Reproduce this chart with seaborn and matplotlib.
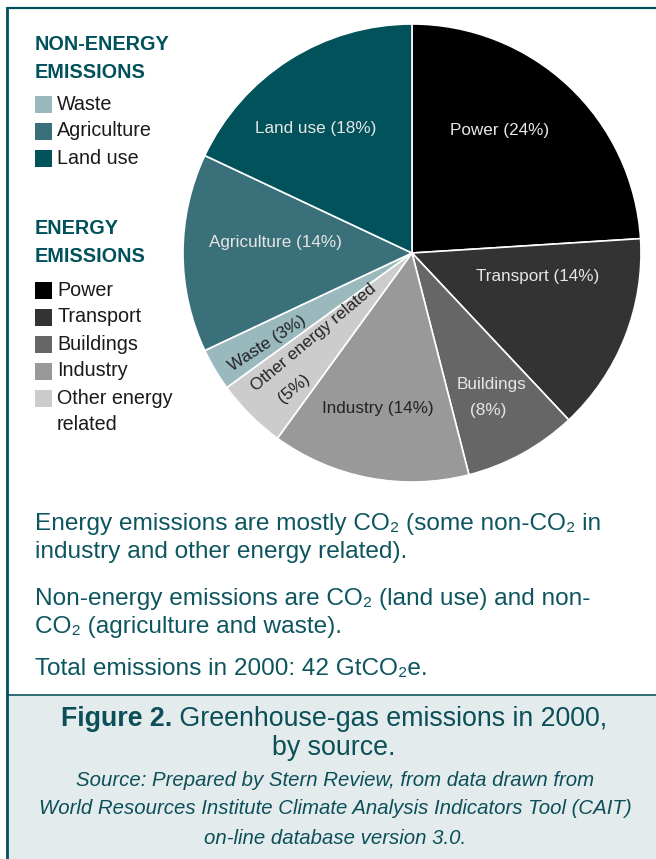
import matplotlib
matplotlib.use("Agg")
import matplotlib.pyplot as plt
import seaborn as sns
from matplotlib.patches import Rectangle
from matplotlib.lines import Line2D

# ---- data ----
sources = ["Power", "Transport", "Buildings", "Industry", "Other energy related",
           "Waste", "Agriculture", "Land use"]
shares = [24, 14, 8, 14, 5, 3, 14, 18]
slice_colors = ["#000000", "#333333", "#666666", "#999999", "#cccccc",
                "#99b9bd", "#3a707a", "#02525c"]
non_energy_items = ["Waste", "Agriculture", "Land use"]
energy_items = ["Power", "Transport", "Buildings", "Industry", "Other energy related"]

sns.set_theme(style="white")
FONT = ["Liberation Sans", "DejaVu Sans"]
plt.rcParams["font.family"] = FONT

W, H = 656, 859
TEAL = "#00515b"
TXT_TEAL = "#0d555f"

fig = plt.figure(figsize=(W / 100, H / 100), dpi=100)
ax = fig.add_axes([0, 0, 1, 1])


def Y(y):
    return H - y


# pie
cx, cy, R = 412, 253, 229
wedges, _ = ax.pie(shares, colors=slice_colors, startangle=90, counterclock=False,
                   center=(cx, Y(cy)), radius=R,
                   wedgeprops=dict(edgecolor="white", linewidth=1.2))
ax.set_xlim(0, W)
ax.set_ylim(0, H)
ax.set_aspect("equal")
ax.axis("off")

# slice labels: (text, x, y, color, rotation)
light = "#e6e6e6"
dark = "#222222"
lab_size = 12.3
slice_labels = [
    ("Power (24%)", 500, 131, light, 0),
    ("Transport (14%)", 538, 277, light, 0),
    ("Buildings", 492, 385, light, 0),
    ("(8%)", 488, 410, light, 0),
    ("Industry (14%)", 378, 408, dark, 0),
    ("Other energy related", 314, 338, dark, 40),
    ("(5%)", 294, 389, dark, 40),
    ("Waste (3%)", 267, 343, dark, 33),
    ("Agriculture (14%)", 275, 242, light, 0),
    ("Land use (18%)", 316, 128, light, 0),
]
for t, x, y, c, rot in slice_labels:
    ax.text(x, Y(y), t, color=c, fontsize=lab_size, ha="center", va="center",
            rotation=rot, rotation_mode="anchor")

# frame lines
ax.add_line(Line2D([6.5, W], [Y(8), Y(8)], color=TEAL, lw=1.6))
ax.add_patch(Rectangle((6.5, 0), W - 6.5, Y(695), facecolor="#e4ebed", edgecolor="none"))
ax.add_line(Line2D([6.5, W], [Y(695), Y(695)], color="#2f6b73", lw=1.4))
ax.add_line(Line2D([6.5, 6.5], [0, Y(8)], color=TEAL, lw=2))

# legend
hx = 35
hs = 14.3
ax.text(hx, Y(45), "NON-ENERGY", color=TEAL, fontsize=hs, fontweight="bold", va="center")
ax.text(hx, Y(72), "EMISSIONS", color=TEAL, fontsize=hs, fontweight="bold", va="center")
ax.text(hx, Y(229), "ENERGY", color=TEAL, fontsize=hs, fontweight="bold", va="center")
ax.text(hx, Y(256), "EMISSIONS", color=TEAL, fontsize=hs, fontweight="bold", va="center")

col = dict(zip(sources, slice_colors))
row_ys_ne = [104, 131, 158]
row_ys_e = [290, 317, 344, 371, 398]
for items, ys in ((non_energy_items, row_ys_ne), (energy_items, row_ys_e)):
    for name, y in zip(items, ys):
        ax.add_patch(Rectangle((35, Y(y) - 8.5), 16.5, 17, facecolor=col[name], edgecolor="none"))
        if name == "Other energy related":
            ax.text(57, Y(y), "Other energy", color="#1a1a1a", fontsize=14.2, va="center")
            ax.text(57, Y(y + 27), "related", color="#1a1a1a", fontsize=14.2, va="center")
        else:
            ax.text(57, Y(y), name, color="#1a1a1a", fontsize=14.2, va="center")

# body text
body = [
    ("Energy emissions are mostly CO\u2082 (some non-CO\u2082 in", 524),
    ("industry and other energy related).", 552),
    ("Non-energy emissions are CO\u2082 (land use) and non-", 599),
    ("CO\u2082 (agriculture and waste).", 627),
    ("Total emissions in 2000: 42 GtCO\u2082e.", 669),
]
for t, y in body:
    ax.text(35, Y(y), t, color=TXT_TEAL, fontsize=17.6, va="center")

# caption
fig.canvas.draw()
rend = fig.canvas.get_renderer()
cap_col = "#0b4f58"
cs = 19.3
ccx = 334
t1 = ax.text(0, Y(719), "Figure 2.", color=cap_col, fontsize=cs, fontweight="heavy", va="center")
t2 = ax.text(0, Y(719), " Greenhouse-gas emissions in 2000,", color=cap_col, fontsize=cs, va="center")
w1 = t1.get_window_extent(rend).width
w2 = t2.get_window_extent(rend).width
x0 = ccx - (w1 + w2) / 2
t1.set_x(x0)
t2.set_x(x0 + w1)
ax.text(ccx, Y(748), "by source.", color=cap_col, fontsize=cs, ha="center", va="center")
src = [
    ("Source: Prepared by Stern Review, from data drawn from", 780),
    ("World Resources Institute Climate Analysis Indicators Tool (CAIT)", 809),
    ("on-line database version 3.0.", 838),
]
for t, y in src:
    ax.text(335, Y(y), t, color=cap_col, fontsize=14.7, style="italic",
            ha="center", va="center")

fig.savefig("out.png", dpi=100)
